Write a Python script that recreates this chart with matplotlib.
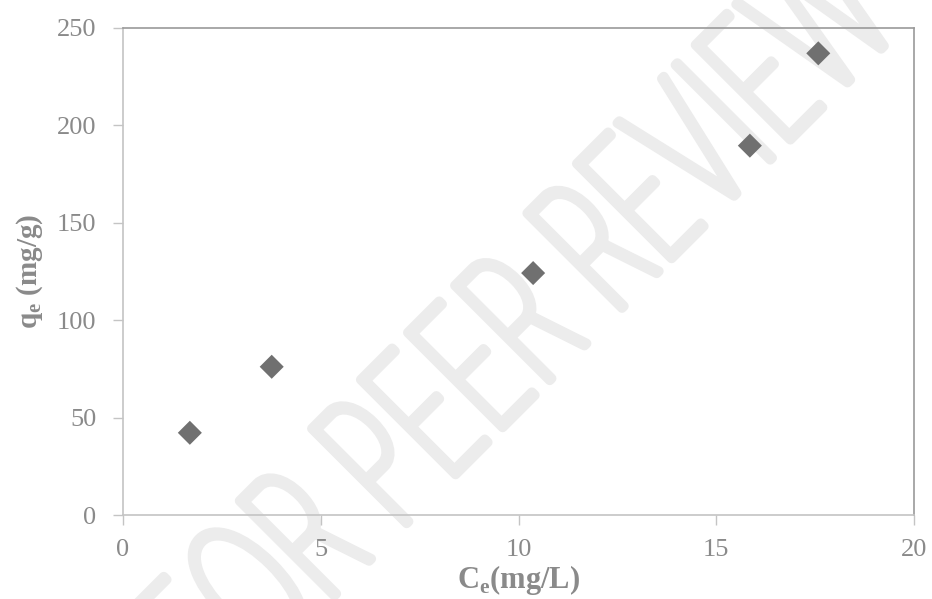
import matplotlib
matplotlib.use("Agg")
import matplotlib.pyplot as plt
from matplotlib import font_manager
from matplotlib.font_manager import FontProperties
from matplotlib.textpath import TextPath
from matplotlib.patches import PathPatch
from matplotlib.transforms import Affine2D, IdentityTransform

# Equilibrium adsorption data
ce_values = [1.69, 3.76, 10.37, 15.85, 17.58]      # Ce (mg/L)
qe_values = [42.2, 76.1, 124.2, 189.6, 237.0]      # qe (mg/g)

x_ticks = [0, 5, 10, 15, 20]
y_ticks = [0, 50, 100, 150, 200, 250]

label_grey = "#8a8a8a"
serif = ["Liberation Serif", "DejaVu Serif"]

W, H = 932, 599
fig = plt.figure(figsize=(W / 100, H / 100), dpi=100)
ax = fig.add_axes([123 / W, 1 - 515 / H, (914 - 123) / W, (515 - 28) / H])
ax.set_facecolor("none")


def lightest_font():
    """Pick the thinnest installed sans face for the watermark strokes."""
    best = None
    for fam in ["Lato", "Roboto", "Inter", "Open Sans", "Noto Sans", "DejaVu Sans"]:
        faces = [f for f in font_manager.fontManager.ttflist
                 if f.name == fam and f.style == "normal"]
        for f in faces:
            w = f.weight if isinstance(f.weight, int) else 400
            if best is None or w < best[0]:
                best = (w, f.fname)
    if best is None:
        return None, FontProperties(family="DejaVu Sans")
    return best[0], FontProperties(fname=best[1])


# Diagonal "FOR PEER REVIEW" watermark, drawn as a condensed outline
wm_text = "FOR PEER REVIEW"
wm_weight, fp = lightest_font()
full = TextPath((0, 0), wm_text, size=1, prop=fp)
rev = TextPath((0, 0), "REVIEW", size=1, prop=fp)
cap = TextPath((0, 0), "E", size=1, prop=fp)
fb, rb, cb = full.get_extents(), rev.get_extents(), cap.get_extents()
rev_start = fb.x1 - (rb.x1 - rb.x0)

# thin faces get a heavier outline so the strokes end up about 17 px wide
stroke_pt = 0.8 if (wm_weight is None or wm_weight >= 350) else 7.0
sy = 134 / cb.height          # cap height in pixels
sx = 394 / (rb.x1 - rb.x0)    # length of "REVIEW" in pixels
anchor = (622, H - 308)       # baseline start of "REVIEW"
tr = (Affine2D().translate(-rev_start, -cb.y0).scale(sx, sy)
      .rotate_deg(45).translate(*anchor))
wm = PathPatch(tr.transform_path(full), transform=IdentityTransform(),
               facecolor="#ececec", edgecolor="#ececec", linewidth=stroke_pt,
               joinstyle="round", capstyle="round", zorder=-1)
fig.add_artist(wm)

ax.scatter(ce_values, qe_values, marker="D", s=150, color="#707070",
           edgecolors="none", zorder=3)

ax.set_xlim(0, 20)
ax.set_ylim(0, 250)
ax.set_xticks(x_ticks)
ax.set_yticks(y_ticks)

for side in ("left", "bottom"):
    ax.spines[side].set_color("#c4c4c4")
    ax.spines[side].set_linewidth(1.2)
for side in ("top", "right"):
    ax.spines[side].set_color("#9a9a9a")
    ax.spines[side].set_linewidth(1.2)

ax.tick_params(axis="both", direction="out", length=7, width=1,
               color="#c4c4c4", labelcolor=label_grey, labelsize=19)
ax.tick_params(axis="y", pad=12)
ax.tick_params(axis="x", pad=10)
for lab in ax.get_xticklabels() + ax.get_yticklabels():
    lab.set_family(serif)

ax.set_xlabel(r"C$_\mathregular{e}$(mg/L)", fontsize=22, fontweight="bold",
              color=label_grey, family=serif, labelpad=2)
ax.set_ylabel(r"q$_\mathregular{e}$ (mg/g)", fontsize=21, fontweight="bold",
              color=label_grey, family=serif, labelpad=9)

fig.savefig("out.png", dpi=100)
